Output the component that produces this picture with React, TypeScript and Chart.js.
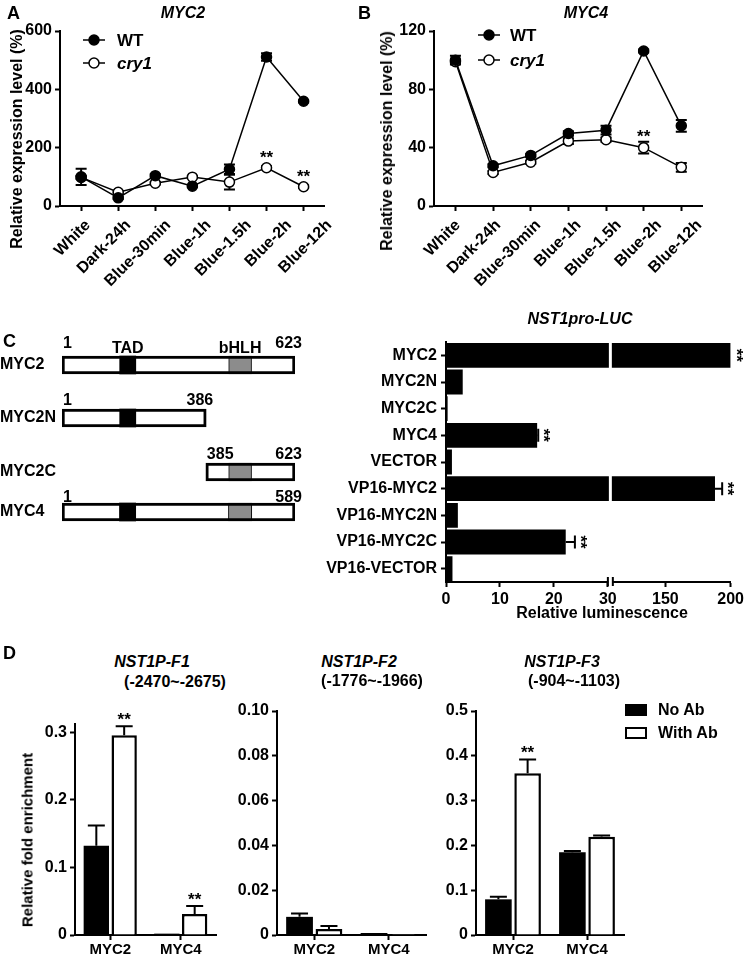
import React, { useEffect, useRef } from 'react';
import { Chart, registerables } from 'chart.js';

Chart.register(...registerables);

const FONT = "'Liberation Sans', Arial, Helvetica, sans-serif";
Chart.defaults.font.family = FONT;
Chart.defaults.font.weight = 'bold';
Chart.defaults.color = '#000';

// ---------------- Panel A / B data ----------------
const TIME_POINTS = ['White', 'Dark-24h', 'Blue-30min', 'Blue-1h', 'Blue-1.5h', 'Blue-2h', 'Blue-12h'];

const MYC2_WT = [100, 28, 104, 68, 126, 511, 359];
const MYC2_WT_ERR = [28, 4, 5, 4, 16, 13, 4];
const MYC2_CRY1 = [98, 47, 78, 99, 82, 131, 66];
const MYC2_CRY1_ERR = [5, 4, 4, 4, 25, 5, 4];
const MYC2_CRY1_SIG = [false, false, false, false, false, true, true];

const MYC4_WT = [100, 27.6, 34.7, 49.7, 52, 106.3, 55];
const MYC4_WT_ERR = [3, 1, 1, 1.5, 3, 1, 4];
const MYC4_CRY1 = [99, 23, 30, 44.5, 45.5, 40, 26.5];
const MYC4_CRY1_ERR = [1, 1, 1, 2, 1.5, 4, 3];
const MYC4_CRY1_SIG = [false, false, false, false, false, true, false];

// ---------------- Panel C diagram data ----------------
const PROTEINS = ['MYC2', 'MYC2N', 'MYC2C', 'MYC4'];
const PARENT_LENGTH = [623, 623, 623, 589];
const BOX_START = [1, 1, 385, 1];
const BOX_END = [623, 386, 623, 589];
const TAD_RANGE: (number[] | null)[] = [[155, 198], [155, 198], null, [146, 187]];
const BHLH_RANGE: (number[] | null)[] = [[446, 507], null, [446, 507], [421, 480]];

// ---------------- Panel C luciferase data ----------------
const LUC_CONSTRUCTS = ['MYC2', 'MYC2N', 'MYC2C', 'MYC4', 'VECTOR', 'VP16-MYC2', 'VP16-MYC2N', 'VP16-MYC2C', 'VP16-VECTOR'];
const LUC_VALUES = [200, 3.1, 0.3, 16.9, 1.1, 188, 2.2, 22.2, 1.2];
const LUC_ERR = [0, 0, 0, 0.2, 0, 5.5, 0, 1.7, 0];
const LUC_SIG = [true, false, false, true, false, true, false, true, false];
const LUC_TICKS = [0, 10, 20, 30, 150, 200];
const LUC_BREAK = [30, 110];

// ---------------- Panel D data ----------------
const CHIP_GROUPS = ['MYC2', 'MYC4'];
const F1_NO_AB = [0.132, 0.002];
const F1_NO_AB_ERR = [0.03, 0];
const F1_WITH_AB = [0.2955, 0.031];
const F1_WITH_AB_ERR = [0.013, 0.012];
const F1_SIG = [true, true];
const F2_NO_AB = [0.0081, 0.0009];
const F2_NO_AB_ERR = [0.0015, 0];
const F2_WITH_AB = [0.0027, 0.0004];
const F2_WITH_AB_ERR = [0.0013, 0];
const F2_SIG = [false, false];
const F3_NO_AB = [0.0796, 0.1845];
const F3_NO_AB_ERR = [0.006, 0.003];
const F3_WITH_AB = [0.361, 0.2195];
const F3_WITH_AB_ERR = [0.031, 0.0025];
const F3_SIG = [true, false];

// ---------------- helpers ----------------
const font = (size: number) => ({ family: FONT, size, weight: 'bold' as const });
const axisGrid = { drawOnChartArea: false, drawTicks: true, tickLength: 5, tickWidth: 2, tickColor: '#000', offset: false };
const axisBorder = { display: true, color: '#000', width: 2 };

// broken axis mapping for luciferase chart
const UPPER_RATIO = 0.242;
function toAxis(v: number) {
  if (v <= LUC_BREAK[0]) return v;
  return LUC_BREAK[0] + 1 + (v - LUC_BREAK[1]) * UPPER_RATIO;
}

function drawErrors(chart: any) {
  const ctx = chart.ctx;
  const horiz = chart.options.indexAxis === 'y';
  const vScale = chart.scales[horiz ? 'x' : 'y'];
  chart.data.datasets.forEach((ds: any, di: number) => {
    if (!ds.errorRange) return;
    const meta = chart.getDatasetMeta(di);
    ctx.save();
    ctx.strokeStyle = '#000';
    ctx.lineWidth = 2;
    meta.data.forEach((el: any, i: number) => {
      const r = ds.errorRange[i];
      if (!r || r[1] - r[0] <= 0) return;
      const a = vScale.getPixelForValue(r[0]);
      const b = vScale.getPixelForValue(r[1]);
      const c = horiz ? el.y : el.x;
      const h = ds.capSize / 2;
      ctx.beginPath();
      if (horiz) {
        ctx.moveTo(a, c); ctx.lineTo(b, c);
        ctx.moveTo(b, c - h); ctx.lineTo(b, c + h);
        if (ds.errorCaps === 'both') { ctx.moveTo(a, c - h); ctx.lineTo(a, c + h); }
      } else {
        ctx.moveTo(c, a); ctx.lineTo(c, b);
        ctx.moveTo(c - h, b); ctx.lineTo(c + h, b);
        if (ds.errorCaps === 'both') { ctx.moveTo(c - h, a); ctx.lineTo(c + h, a); }
      }
      ctx.stroke();
    });
    ctx.restore();
  });
}

const errorBarPlugin = {
  id: 'errorBars',
  beforeDatasetsDraw(chart: any) { if (chart.config.type === 'line') drawErrors(chart); },
  afterDatasetsDraw(chart: any) { if (chart.config.type !== 'line') drawErrors(chart); },
};

const sigPlugin = {
  id: 'sigMarks',
  afterDatasetsDraw(chart: any, _a: any, opts: any) {
    const ctx = chart.ctx;
    const off = opts.offset ?? 10;
    const size = opts.size ?? 17;
    const horiz = chart.options.indexAxis === 'y';
    const vScale = chart.scales[horiz ? 'x' : 'y'];
    chart.data.datasets.forEach((ds: any, di: number) => {
      if (!ds.sig) return;
      const meta = chart.getDatasetMeta(di);
      meta.data.forEach((el: any, i: number) => {
        if (!ds.sig[i]) return;
        const hi = ds.errorRange ? ds.errorRange[i][1] : (horiz ? el.x : el.y);
        const p = vScale.getPixelForValue(hi);
        ctx.save();
        ctx.font = `bold ${size}px ${FONT}`;
        ctx.fillStyle = '#000';
        ctx.textAlign = 'center';
        ctx.textBaseline = 'alphabetic';
        if (horiz) {
          ctx.translate(p + off, el.y);
          ctx.rotate(Math.PI / 2);
          ctx.fillText('**', 0, 0.52 * size);
        } else {
          ctx.fillText('**', el.x, p - off + 0.52 * size);
        }
        ctx.restore();
      });
    });
  },
};

const lineLegendPlugin = {
  id: 'lineLegend',
  afterDraw(chart: any, _a: any, o: any) {
    const ctx = chart.ctx;
    chart.data.datasets.forEach((ds: any, i: number) => {
      const y = o.ys[i];
      ctx.save();
      ctx.strokeStyle = '#000';
      ctx.lineWidth = 1.5;
      ctx.beginPath();
      ctx.moveTo(o.x0, y); ctx.lineTo(o.x1, y);
      ctx.stroke();
      ctx.beginPath();
      ctx.arc((o.x0 + o.x1) / 2, y, 5, 0, Math.PI * 2);
      ctx.fillStyle = ds.pointBackgroundColor;
      ctx.fill();
      ctx.stroke();
      ctx.fillStyle = '#000';
      ctx.font = `${i === 1 ? 'italic ' : ''}bold 17px ${FONT}`;
      ctx.textAlign = 'left';
      ctx.textBaseline = 'middle';
      ctx.fillText(ds.label, o.textX, y + 1);
      ctx.restore();
    });
  },
};

const axisBreakPlugin = {
  id: 'axisBreak',
  afterDatasetsDraw(chart: any, _a: any, o: any) {
    const ctx = chart.ctx;
    const x = chart.scales.x;
    const { top, bottom } = chart.chartArea;
    const a = x.getPixelForValue(o.from);
    const b = x.getPixelForValue(o.to);
    ctx.save();
    ctx.fillStyle = '#fff';
    ctx.fillRect(a, top, b - a, bottom - top - 1.5);
    ctx.restore();
  },
  afterDraw(chart: any, _a: any, o: any) {
    const ctx = chart.ctx;
    const x = chart.scales.x;
    const y = chart.chartArea.bottom;
    const a = x.getPixelForValue(o.from);
    const b = x.getPixelForValue(o.to);
    ctx.save();
    ctx.fillStyle = '#fff';
    ctx.fillRect(a - 0.5, y - 2, b - a + 1, 4);
    ctx.strokeStyle = '#000';
    ctx.lineWidth = 2;
    ctx.beginPath();
    ctx.moveTo(a - 1, y - 5); ctx.lineTo(a - 1, y + 4);
    ctx.moveTo(b + 1, y - 5); ctx.lineTo(b + 1, y + 4);
    ctx.stroke();
    ctx.restore();
  },
};

const diagramLabelPlugin = {
  id: 'diagramLabels',
  afterDraw(chart: any, _a: any, o: any) {
    const ctx = chart.ctx;
    const xs = chart.scales.x;
    const box = chart.data.datasets[0].data[0];
    const el: any = chart.getDatasetMeta(0).data[0];
    const boxTop = el.y - el.height / 2;
    ctx.save();
    ctx.font = `bold 16px ${FONT}`;
    ctx.fillStyle = '#000';
    ctx.textBaseline = 'alphabetic';
    ctx.textAlign = 'left';
    ctx.fillText(String(box[0]), xs.getPixelForValue(box[0]) + 1, boxTop - o.lift);
    ctx.textAlign = 'right';
    ctx.fillText(String(box[1]), xs.getPixelForValue(box[1]) + 7, boxTop - o.lift);
    if (o.domainNames) {
      ctx.textAlign = 'center';
      for (let d = 1; d < chart.data.datasets.length; d++) {
        const ds = chart.data.datasets[d];
        const r = ds.data[0];
        if (!r) continue;
        const cx = (xs.getPixelForValue(r[0]) + xs.getPixelForValue(r[1])) / 2;
        ctx.fillText(ds.label, cx, boxTop - 3);
      }
    }
    ctx.restore();
  },
};

// ---------------- chart builders ----------------
function makeLineChart(p: any) {
  const pts = (a: number[]) => a.map((v, i) => ({ x: i, y: v }));
  const rng = (v: number[], e: number[]) => v.map((x, i) => [x - e[i], x + e[i]]);
  const common = { borderColor: '#000', borderWidth: 1.5, pointRadius: 5, pointBorderColor: '#000', pointBorderWidth: 1.5, tension: 0, fill: false, errorCaps: 'both', capSize: 11 };
  const setTicks = (s: any) => { s.ticks = TIME_POINTS.map((_, i) => ({ value: i })); };
  return {
    type: 'line',
    data: {
      datasets: [
        { ...common, label: 'WT', data: pts(p.wt), pointBackgroundColor: '#000', errorRange: rng(p.wt, p.wtErr) },
        { ...common, label: 'cry1', data: pts(p.cry), pointBackgroundColor: '#fff', errorRange: rng(p.cry, p.cryErr), sig: p.sig },
      ],
    },
    options: {
      responsive: false, animation: false, devicePixelRatio: 1, events: [],
      layout: { padding: { top: p.padTop, right: p.padRight, left: 0, bottom: 0 } },
      plugins: { legend: { display: false }, tooltip: { enabled: false }, sigMarks: { offset: p.sigOffset, size: 17 }, lineLegend: p.legend },
      scales: {
        x: {
          type: 'linear', position: 'bottom', weight: 0, min: -0.57, max: 6.55,
          afterBuildTicks: setTicks,
          afterFit: (s: any) => { s.height = 5; },
          ticks: { display: false },
          grid: axisGrid, border: axisBorder,
        },
        xl: {
          type: 'linear', axis: 'x', position: 'bottom', weight: 1, min: p.lblMin, max: p.lblMax,
          afterBuildTicks: setTicks,
          afterFit: (s: any) => { s.height = p.xHeight - 5; },
          ticks: { autoSkip: false, maxRotation: 45, minRotation: 45, padding: 5, font: font(16), color: '#000', callback: (v: any) => TIME_POINTS[v] ?? '' },
          grid: { display: false, drawTicks: false }, border: { display: false },
        },
        y: {
          min: 0, max: p.yMax,
          afterFit: (s: any) => { s.width = p.yWidth; },
          ticks: { stepSize: p.yStep, padding: 3, font: font(16), color: '#000' },
          grid: axisGrid, border: axisBorder,
        },
      },
    },
    plugins: [errorBarPlugin, sigPlugin, lineLegendPlugin],
  };
}

function makeDiagram(r: number) {
  const seg = (x: number[] | null) => [x ? [x[0], x[1]] : null];
  const base = { grouped: false, barThickness: 18 };
  return {
    type: 'bar',
    data: {
      labels: [PROTEINS[r]],
      datasets: [
        { ...base, label: PROTEINS[r], data: [[BOX_START[r], BOX_END[r]]], backgroundColor: '#fff', borderColor: '#000', borderWidth: 3, borderSkipped: false, order: 3 },
        { ...base, label: 'TAD', data: seg(TAD_RANGE[r]), backgroundColor: '#000', borderWidth: 0, order: 2 },
        { ...base, label: 'bHLH', data: seg(BHLH_RANGE[r]), backgroundColor: '#8c8c8c', borderColor: '#000', borderWidth: { top: 3, bottom: 3, left: 1, right: 1 }, borderSkipped: false, order: 1 },
      ],
    },
    options: {
      indexAxis: 'y', responsive: false, animation: false, devicePixelRatio: 1, events: [],
      layout: { padding: { top: 26, right: 25, left: 0, bottom: 12 } },
      plugins: { legend: { display: false }, tooltip: { enabled: false }, diagramLabels: { lift: DIAGRAM_LIFT[r], domainNames: r === 0 } },
      scales: {
        x: { type: 'linear', display: false, min: 1, max: PARENT_LENGTH[r] },
        y: {
          afterFit: (s: any) => { s.width = 62; },
          ticks: { crossAlign: 'far', padding: 0, font: font(16), color: '#000' },
          grid: { display: false }, border: { display: false },
        },
      },
    },
    plugins: [diagramLabelPlugin],
  };
}

function makeLucChart() {
  const vals = LUC_VALUES.map(toAxis);
  return {
    type: 'bar',
    data: {
      labels: LUC_CONSTRUCTS,
      datasets: [{
        label: 'NST1pro-LUC', data: vals, backgroundColor: '#000', borderWidth: 0,
        categoryPercentage: 1, barPercentage: 0.93,
        errorRange: LUC_VALUES.map((v, i) => [toAxis(v), toAxis(v + LUC_ERR[i])]), errorCaps: 'hi', capSize: 13,
        sig: LUC_SIG,
      }],
    },
    options: {
      indexAxis: 'y', responsive: false, animation: false, devicePixelRatio: 1, events: [],
      layout: { padding: { top: 42, right: 14.5, left: 0, bottom: 0 } },
      plugins: { legend: { display: false }, tooltip: { enabled: false }, sigMarks: { offset: 9, size: 17 }, axisBreak: { from: LUC_BREAK[0] + 0.2, to: LUC_BREAK[0] + 0.75 } },
      scales: {
        x: {
          type: 'linear', min: 0, max: toAxis(LUC_TICKS[LUC_TICKS.length - 1]),
          afterBuildTicks: (s: any) => { s.ticks = LUC_TICKS.map((t) => ({ value: toAxis(t) })); },
          afterFit: (s: any) => { s.height = 43; },
          ticks: {
            autoSkip: false, maxRotation: 0, padding: 3, font: font(16), color: '#000',
            callback: (v: any) => { const t = LUC_TICKS.find((tt) => Math.abs(toAxis(tt) - v) < 1e-6); return t === undefined ? '' : String(t); },
          },
          grid: axisGrid, border: axisBorder,
        },
        y: {
          afterFit: (s: any) => { s.width = 126; },
          ticks: { autoSkip: false, padding: 4, font: font(16), color: '#000' },
          grid: axisGrid, border: axisBorder,
        },
      },
    },
    plugins: [errorBarPlugin, axisBreakPlugin, sigPlugin],
  };
}

function makeChipChart(p: any) {
  const rng = (v: number[], e: number[]) => v.map((x, i) => [x, x + e[i]]);
  const base = { categoryPercentage: 0.79, barPercentage: 0.91, errorCaps: 'hi', capSize: 17 };
  return {
    type: 'bar',
    data: {
      labels: CHIP_GROUPS,
      datasets: [
        { ...base, label: 'No Ab', data: p.noAb, backgroundColor: '#000', borderWidth: 0, errorRange: rng(p.noAb, p.noAbErr) },
        { ...base, label: 'With Ab', data: p.withAb, backgroundColor: '#fff', borderColor: '#000', borderWidth: 2.5, errorRange: rng(p.withAb, p.withAbErr), sig: p.sig },
      ],
    },
    options: {
      responsive: false, animation: false, devicePixelRatio: 1, events: [],
      layout: { padding: { top: p.padTop, right: p.padRight, left: 0, bottom: 0 } },
      plugins: { legend: { display: false }, tooltip: { enabled: false }, sigMarks: { offset: 10, size: 17 } },
      scales: {
        x: {
          afterFit: (s: any) => { s.height = 24; },
          ticks: { autoSkip: false, maxRotation: 0, padding: 1, font: font(15), color: '#000' },
          grid: axisGrid, border: axisBorder,
        },
        y: {
          min: 0, max: p.yMax,
          afterFit: (s: any) => { s.width = p.yWidth; },
          ticks: { stepSize: p.yStep, includeBounds: false, padding: 3, font: font(16), color: '#000', callback: (v: any) => (v === 0 ? '0' : Number(v).toFixed(p.dec)) },
          grid: axisGrid, border: axisBorder,
        },
      },
    },
    plugins: [errorBarPlugin, sigPlugin],
  };
}

// ---------------- layout constants ----------------
const DIAGRAM_CENTERS = [365, 418, 472, 512];
const DIAGRAM_LIFT = [8, 4, 4, 1];
const LABEL_PITCH = 40.2;

// ---------------- components ----------------
function ChartCanvas({ left, top, width, height, build }: any) {
  const ref = useRef<HTMLCanvasElement>(null);
  useEffect(() => {
    const chart = new Chart(ref.current as HTMLCanvasElement, build());
    return () => chart.destroy();
  }, []);
  return <canvas ref={ref} width={width} height={height} style={{ position: 'absolute', left, top, width, height }} />;
}

function Txt({ x, y, children, size = 16, italic = false, align = 'center', rotate = false }: any) {
  const tx = align === 'center' ? '-50%' : '0';
  const style: any = {
    position: 'absolute', left: x, top: y, fontSize: size, fontWeight: 'bold',
    fontStyle: italic ? 'italic' : 'normal', whiteSpace: 'nowrap', lineHeight: 1, color: '#000',
    transform: rotate ? 'translate(-50%,-50%) rotate(-90deg)' : `translate(${tx},-50%)`,
  };
  return <div style={style}>{children}</div>;
}

// label-axis range: first label anchor offset (px from axis start), plot width
const lblRange = (firstOffset: number, plotWidth: number) => {
  const min = -firstOffset / LABEL_PITCH;
  return { lblMin: min, lblMax: min + plotWidth / LABEL_PITCH };
};

export default function App() {
  return (
    <div style={{ position: 'absolute', left: 0, top: 0, width: 747, height: 959, background: '#fff', overflow: 'hidden', fontFamily: FONT, color: '#000' }}>
      {/* Panel A */}
      <ChartCanvas left={0} top={0} width={352} height={290} build={() => makeLineChart({
        wt: MYC2_WT, wtErr: MYC2_WT_ERR, cry: MYC2_CRY1, cryErr: MYC2_CRY1_ERR, sig: MYC2_CRY1_SIG,
        yMax: 600, yStep: 200, yWidth: 60, padTop: 31, padRight: 28, xHeight: 84, sigOffset: 12,
        ...lblRange(28, 264),
        legend: { x0: 83, x1: 105, textX: 117, ys: [40, 63] },
      })} />
      <Txt x={7} y={13} size={18} align="left">A</Txt>
      <Txt x={183} y={13} italic>MYC2</Txt>
      <Txt x={17} y={139} rotate>Relative expression level (%)</Txt>

      {/* Panel B */}
      <ChartCanvas left={370} top={0} width={377} height={290} build={() => makeLineChart({
        wt: MYC4_WT, wtErr: MYC4_WT_ERR, cry: MYC4_CRY1, cryErr: MYC4_CRY1_ERR, sig: MYC4_CRY1_SIG,
        yMax: 120, yStep: 40, yWidth: 64, padTop: 31, padRight: 45, xHeight: 84, sigOffset: 9,
        ...lblRange(24, 268),
        legend: { x0: 108, x1: 130, textX: 140, ys: [35, 60] },
      })} />
      <Txt x={358} y={13} size={18} align="left">B</Txt>
      <Txt x={586} y={13} italic>MYC4</Txt>
      <Txt x={387} y={141} rotate>Relative expression level (%)</Txt>

      {/* Panel C */}
      <Txt x={3} y={341} size={18} align="left">C</Txt>
      {PROTEINS.map((_, r) => (
        <ChartCanvas key={r} left={0} top={DIAGRAM_CENTERS[r] - 37} width={320} height={60} build={() => makeDiagram(r)} />
      ))}
      <ChartCanvas left={320} top={300} width={427} height={325} build={makeLucChart} />
      <Txt x={580} y={319} italic>NST1pro-LUC</Txt>
      <Txt x={602} y={613}>Relative luminescence</Txt>

      {/* Panel D */}
      <Txt x={3} y={653} size={18} align="left">D</Txt>
      <ChartCanvas left={0} top={700} width={240} height={259} build={() => makeChipChart({
        noAb: F1_NO_AB, noAbErr: F1_NO_AB_ERR, withAb: F1_WITH_AB, withAbErr: F1_WITH_AB_ERR, sig: F1_SIG,
        yMax: 0.312, yStep: 0.1, dec: 1, yWidth: 75, padTop: 24, padRight: 24,
      })} />
      <ChartCanvas left={236} top={690} width={200} height={269} build={() => makeChipChart({
        noAb: F2_NO_AB, noAbErr: F2_NO_AB_ERR, withAb: F2_WITH_AB, withAbErr: F2_WITH_AB_ERR, sig: F2_SIG,
        yMax: 0.1, yStep: 0.02, dec: 2, yWidth: 41, padTop: 21, padRight: 10,
      })} />
      <ChartCanvas left={436} top={690} width={311} height={269} build={() => makeChipChart({
        noAb: F3_NO_AB, noAbErr: F3_NO_AB_ERR, withAb: F3_WITH_AB, withAbErr: F3_WITH_AB_ERR, sig: F3_SIG,
        yMax: 0.5, yStep: 0.1, dec: 1, yWidth: 40, padTop: 21, padRight: 123,
      })} />
      <Txt x={152} y={662} italic>NST1P-F1</Txt>
      <Txt x={175} y={682}>(-2470~-2675)</Txt>
      <Txt x={359} y={662} italic>NST1P-F2</Txt>
      <Txt x={372} y={681}>(-1776~-1966)</Txt>
      <Txt x={562} y={662} italic>NST1P-F3</Txt>
      <Txt x={574} y={681}>(-904~-1103)</Txt>
      <Txt x={27} y={840} size={15} rotate>Relative fold enrichment</Txt>

      <div style={{ position: 'absolute', left: 625, top: 704, width: 22, height: 12, background: '#000' }} />
      <Txt x={658} y={710} align="left">No Ab</Txt>
      <div style={{ position: 'absolute', left: 625, top: 727, width: 22, height: 12, background: '#fff', border: '2px solid #000', boxSizing: 'border-box' }} />
      <Txt x={658} y={733} align="left">With Ab</Txt>
    </div>
  );
}
